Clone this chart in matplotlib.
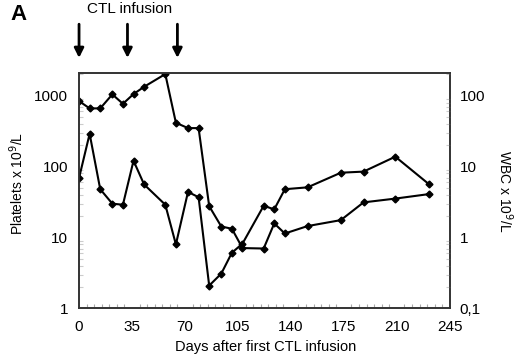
import matplotlib
matplotlib.use('Agg')
import matplotlib.pyplot as plt
from matplotlib.ticker import FixedLocator, MultipleLocator, NullFormatter

plt.rcParams['font.family'] = ['Liberation Sans', 'DejaVu Sans']

# days after first CTL infusion
days = [0, 7, 14, 22, 29, 36, 43, 57, 64, 72, 79, 86, 94, 101, 108,
        122, 129, 136, 151, 173, 188, 209, 231]
# platelets x 10^9/L (left axis)
platelets = [839, 662, 662, 1043, 769, 1054, 1335, 2017, 415, 349, 349,
             27.7, 14.3, 13.3, 7.1, 7.0, 15.8, 11.4, 14.5, 17.6, 31.3, 35.4, 40.9]
# WBC x 10^9/L (right axis)
wbc = [6.9, 29.0, 4.8, 3.0, 2.9, 12.1, 5.6, 2.9, 0.8, 4.4, 3.7, 0.21,
       0.31, 0.61, 0.82, 2.8, 2.5, 4.8, 5.1, 8.2, 8.5, 13.8, 5.7]
infusion_days = [0, 32, 65]

x_ticks = [0, 35, 70, 105, 140, 175, 210, 245]
left_ticks = [1, 10, 100, 1000]
right_ticks = [0.1, 1, 10, 100]
right_labels = ['0,1', '1', '10', '100']

fig = plt.figure(figsize=(5.2, 3.57), dpi=100)
ax = fig.add_axes([0.152, 0.136, 0.713, 0.66])
ax2 = ax.twinx()

ax.plot(days, platelets, color='black', lw=1.5, marker='D', ms=3.5)
ax2.plot(days, wbc, color='black', lw=1.5, marker='D', ms=3.5)

ax.set_xlim(0, 245)
ax.set_yscale('log')
ax.set_ylim(1, 2100)
ax2.set_yscale('log')
ax2.set_ylim(0.1, 210)

ax.xaxis.set_major_locator(FixedLocator(x_ticks))
ax.xaxis.set_minor_locator(MultipleLocator(5))
ax.tick_params(axis='x', which='major', length=0, labelsize=11, pad=8)
ax.tick_params(axis='x', which='minor', direction='in', length=3,
               color='#aaaaaa', width=0.8)

ax.yaxis.set_major_locator(FixedLocator(left_ticks))
ax.set_yticklabels([str(t) for t in left_ticks])
ax.yaxis.set_minor_formatter(NullFormatter())
ax.tick_params(axis='y', which='major', length=0, labelsize=11, pad=8)
ax.tick_params(axis='y', which='minor', direction='in', length=3,
               color='#cccccc', width=0.8)

ax2.yaxis.set_major_locator(FixedLocator(right_ticks))
ax2.set_yticklabels(right_labels)
ax2.yaxis.set_minor_formatter(NullFormatter())
ax2.tick_params(axis='y', which='major', length=0, labelsize=11, pad=7)
ax2.tick_params(axis='y', which='minor', direction='in', length=3,
                color='#cccccc', width=0.8)

for a in (ax, ax2):
    for s in a.spines.values():
        s.set_linewidth(1.2)
        s.set_color('#333333')

fig.text(266 / 520, 1 - 347 / 357, 'Days after first CTL infusion',
         fontsize=10.5, ha='center', va='center')
fig.text(17 / 520, 1 - 183 / 357, 'Platelets x 10$^9$/L', fontsize=10,
         rotation=90, ha='center', va='center')
fig.text(505 / 520, 1 - 191 / 357, 'WBC x 10$^9$/L', fontsize=10,
         rotation=270, ha='center', va='center')

for d in infusion_days:
    ax.annotate('', xy=(d, 0.83), xytext=(d, 0.94),
                xycoords=('data', 'figure fraction'),
                textcoords=('data', 'figure fraction'),
                arrowprops=dict(arrowstyle='-|>', color='black', lw=2,
                                mutation_scale=14),
                annotation_clip=False)

fig.text(130 / 520, 1 - 9 / 357, 'CTL infusion', fontsize=11,
         ha='center', va='center')
fig.text(10 / 520, 1 - 15 / 357, 'A', fontsize=16, fontweight='bold',
         ha='left', va='center')

fig.savefig('out.png', dpi=100)
